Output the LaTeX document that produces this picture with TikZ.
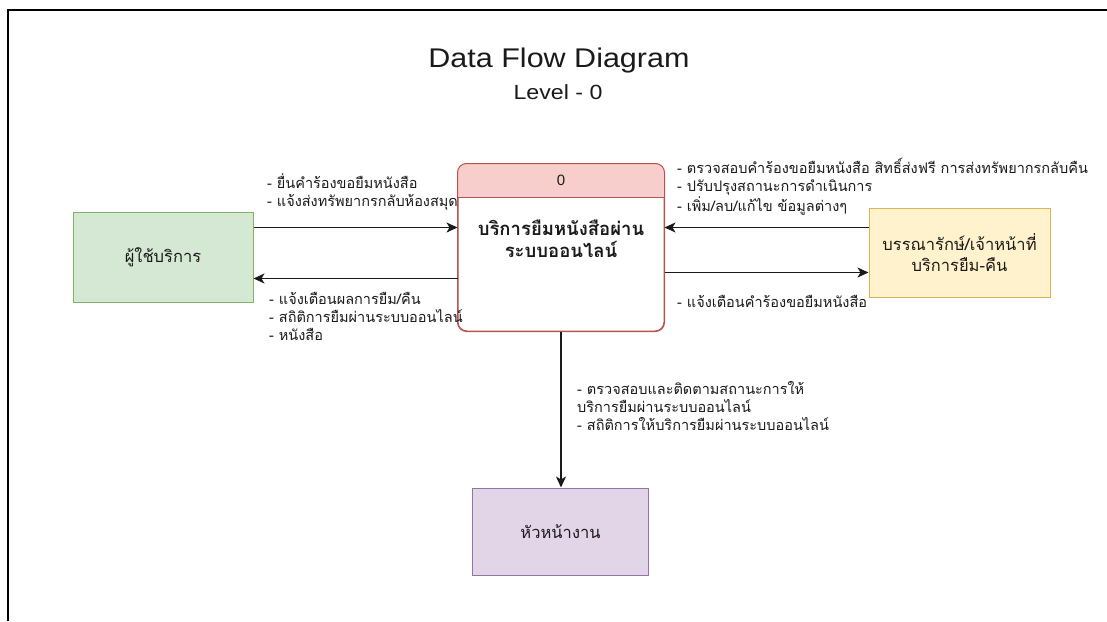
\documentclass[tikz,border=0pt]{standalone}
\usepackage{fontspec}
\setmainfont{Liberation Sans}
\newfontfamily\thai[Script=Thai]{Loma}
\usetikzlibrary{arrows.meta,calc}
\definecolor{gfill}{HTML}{D5E8D4}\definecolor{gline}{HTML}{82B366}
\definecolor{yfill}{HTML}{FFF2CC}\definecolor{yline}{HTML}{D6B656}
\definecolor{pfill}{HTML}{E1D5E7}\definecolor{pline}{HTML}{9673A6}
\definecolor{rfill}{HTML}{F8CECC}\definecolor{rline}{HTML}{B85450}
\definecolor{ink}{HTML}{1A1A1A}
\tikzset{
  entity/.style={draw=#1, line width=1pt, inner sep=0pt, font=\thai\fontsize{16.5}{21}\selectfont, align=center, text=ink},
  flow/.style={draw=ink, line width=1.5pt, -{Stealth[length=11pt,width=10pt,inset=3pt]}},
  lbl/.style={anchor=north west, inner sep=0pt, align=left, font=\thai\fontsize{14.5}{18}\selectfont, text=ink},
}
\begin{document}
\begin{tikzpicture}[x=1pt,y=-1pt]
\useasboundingbox (0,0) rectangle (1107,621);
\draw[line width=1.5pt, black] (8,621) -- (8,10) -- (1107,10);
% title
\node[font=\fontsize{27}{30}\selectfont, text=ink] (title) at (559,61) {\scalebox{1.13}[1]{Data Flow Diagram}};
\node[font=\fontsize{20.5}{22}\selectfont, text=ink] (level) at (558,92) {\scalebox{1.13}[1]{Level - 0}};
% entities
\node[entity=gline, fill=gfill, minimum width=180pt, minimum height=90pt] (user) at (163,257) {ผู้ใช้บริการ};
\node[entity=yline, fill=yfill, minimum width=181pt, minimum height=89pt] (lib) at (959.5,252.5) {บรรณารักษ์/เจ้าหน้าที่\\บริการยืม-คืน};
\node[entity=pline, fill=pfill, minimum width=176pt, minimum height=87pt] (head) at (560.5,531.5) {หัวหน้างาน};
% process
\node[draw=rline, line width=1pt, fill=white, rounded corners=9pt, minimum width=206pt, minimum height=167pt, inner sep=0pt] (proc) at (561,247.5) {};
\coordinate (hl) at ($(proc.north west)+(0,-34pt)$);
\coordinate (hr) at ($(proc.north east)+(0,-34pt)$);
\fill[rfill] (hl) [rounded corners=9pt] -- (proc.north west) -- (proc.north east) [sharp corners] -- (hr) -- cycle;
\draw[rline, line width=1pt] (hl) -- (hr);
\draw[rline, line width=1pt, rounded corners=9pt] (proc.north west) rectangle (proc.south east);
\node[font=\fontsize{15}{16}\selectfont, text=ink] (pid) at ($(proc.north)+(0,-17pt)$) {0};
\node[font=\thai\bfseries\fontsize{18.5}{22}\selectfont, align=center, text=ink] (ptext) at (561,239) {บริการยืมหนังสือผ่าน\\ระบบออนไลน์};
% flows
\coordinate (u1) at ($(user.north east)+(0,-16pt)$);
\coordinate (u2) at ($(user.north east)+(0,-67pt)$);
\coordinate (l1) at ($(lib.north west)+(0,-20pt)$);
\coordinate (l2) at ($(lib.north west)+(0,-65pt)$);
\draw[flow] (u1) -- (u1 -| proc.west);
\draw[flow] (u2 -| proc.west) -- (u2);
\draw[flow] (l1) -- (l1 -| proc.east);
\draw[flow] (l2 -| proc.east) -- (l2);
\draw[flow] (proc.south) -- (proc.south |- head.north);
% labels
\node[lbl] (t1) at (267,173) {- ยื่นคำร้องขอยืมหนังสือ\\- แจ้งส่งทรัพยากรกลับห้องสมุด};
\node[lbl] (t2) at (269,292) {- แจ้งเตือนผลการยืม/คืน\\- สถิติการยืมผ่านระบบออนไลน์\\- หนังสือ};
\node[lbl] (t3) at (677,158) {- ตรวจสอบคำร้องขอยืมหนังสือ สิทธิ์ส่งฟรี การส่งทรัพยากรกลับคืน\\- ปรับปรุงสถานะการดำเนินการ\\- เพิ่ม/ลบ/แก้ไข ข้อมูลต่างๆ};
\node[lbl] (t4) at (677,295) {- แจ้งเตือนคำร้องขอยืมหนังสือ};
\node[lbl] (t5) at (577,381) {- ตรวจสอบและติดตามสถานะการให้\\บริการยืมผ่านระบบออนไลน์\\- สถิติการให้บริการยืมผ่านระบบออนไลน์};
\end{tikzpicture}
\end{document}
